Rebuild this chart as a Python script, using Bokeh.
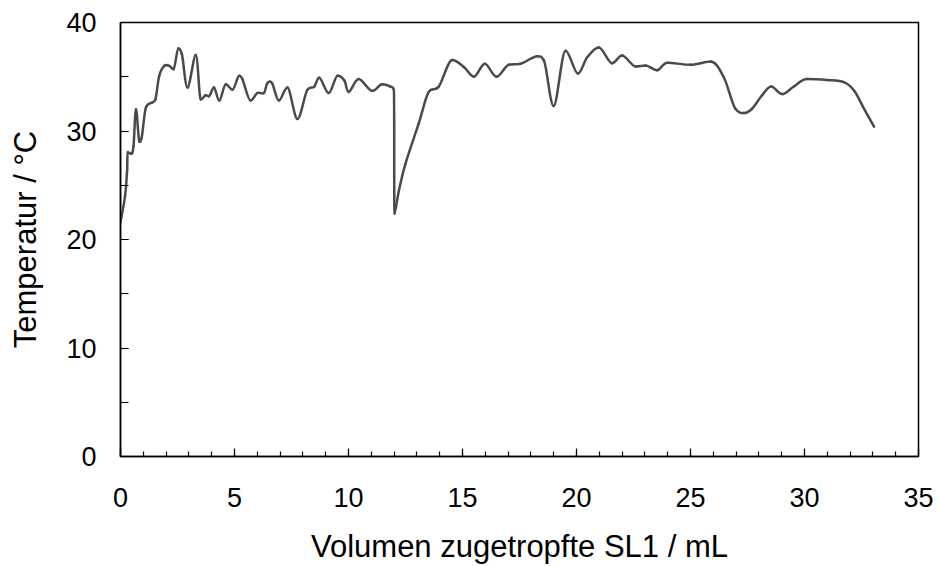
import numpy as np
from bokeh.plotting import figure
from bokeh.models import Range1d, SingleIntervalTicker, ColumnDataSource
from bokeh.embed import file_html
from bokeh.resources import INLINE

volume = [0.0, 0.2, 0.29, 0.32, 0.47, 0.57, 0.68, 0.83, 0.93, 1.12, 1.41, 1.53, 1.70, 1.92,
          2.14, 2.33, 2.53, 2.69, 2.94, 3.30, 3.52, 3.74, 3.88, 4.10, 4.33, 4.62, 4.91,
          5.20, 5.34, 5.70, 6.00, 6.29, 6.44, 6.65, 6.95, 7.32, 7.76, 8.20, 8.50, 8.72,
          9.13, 9.52, 9.82, 10.01, 10.45, 11.04, 11.47, 11.84, 11.99, 12.02, 12.21, 12.5,
          13.08, 13.52, 13.96, 14.55, 15.06, 15.5, 15.98, 16.49, 17.03, 17.54, 18.27,
          18.57, 19.0, 19.52, 20.06, 20.47, 20.98, 21.56, 22.0, 22.59, 23.03, 23.54, 24.0,
          25.0, 25.88, 26.46, 26.97, 27.34, 27.7, 28.14, 28.54, 29.02, 29.53, 30.12,
          31.0, 31.73, 32.18, 32.61, 33.05]
temperatur = [21.6, 24.0, 26.4, 28.05, 27.9, 28.6, 32.0, 29.0, 29.4, 32.2, 32.65, 32.9, 35.1, 36.0,
              36.0, 35.7, 37.6, 37.1, 34.0, 37.0, 32.9, 33.3, 33.2, 34.0, 32.8, 34.3, 33.8,
              35.1, 34.8, 32.8, 33.5, 33.5, 34.4, 34.4, 32.8, 34.0, 31.1, 33.8, 34.1, 34.9,
              33.5, 35.1, 34.65, 33.6, 34.8, 33.7, 34.3, 34.1, 33.8, 22.4, 24.5, 27.0,
              30.7, 33.6, 34.1, 36.55, 35.9, 35.0, 36.2, 35.0, 36.1, 36.2, 36.9,
              36.5, 32.3, 37.4, 35.3, 36.8, 37.7, 36.25, 36.95, 35.95, 36.04, 35.6, 36.3,
              36.1, 36.4, 34.95, 32.05, 31.65, 32.05, 33.3, 34.1, 33.4, 34.1, 34.8,
              34.7, 34.5, 33.7, 32.05, 30.4]

x_label = "Volumen zugetropfte SL1 / mL"
y_label = "Temperatur / °C"

# Smoothed line: cubic Bezier segments whose control points are derived
# from the data points themselves (tangents clamped to avoid overshoot).
px = np.array(volume, dtype=float)
py = np.array(temperatur, dtype=float)
prev_x = np.concatenate([[px[0]], px[:-1]])
prev_y = np.concatenate([[py[0]], py[:-1]])
next_x = np.concatenate([px[1:], [px[-1]]])
next_y = np.concatenate([py[1:], [py[-1]]])
tx = (next_x - prev_x) / 6.0
ty = (next_y - prev_y) / 6.0
dx_prev = px - prev_x
dx_next = next_x - px
tx = np.minimum(tx, np.where(dx_prev > 0, dx_prev, tx))
tx = np.minimum(tx, np.where(dx_next > 0, dx_next, tx))
dy_prev = py - prev_y
dy_next = next_y - py
extremum = dy_prev * dy_next <= 0
lim = np.minimum(np.abs(dy_prev), np.abs(dy_next))
lim = np.where((np.abs(dy_prev) == 0) | (np.abs(dy_next) == 0), np.abs(ty), lim)
ty = np.where(extremum & (dy_prev != 0) & (dy_next != 0), 0.0, np.sign(ty) * np.minimum(np.abs(ty), lim))

seg = ColumnDataSource(dict(
    x0=px[:-1], y0=py[:-1], x1=px[1:], y1=py[1:],
    cx0=px[:-1] + tx[:-1], cy0=py[:-1] + ty[:-1],
    cx1=px[1:] - tx[1:], cy1=py[1:] - ty[1:],
))

p = figure(width=938, height=566, output_backend="svg", toolbar_location=None,
           x_range=Range1d(0, 35), y_range=Range1d(0, 40),
           min_border_left=120, min_border_right=20, min_border_top=22, min_border_bottom=110)
p.bezier(x0="x0", y0="y0", x1="x1", y1="y1", cx0="cx0", cy0="cy0", cx1="cx1", cy1="cy1",
         source=seg, line_color="#4a4a4a", line_width=2.5, line_cap="round")

p.grid.visible = False
p.background_fill_color = "white"
p.border_fill_color = "white"
p.outline_line_color = "black"
p.outline_line_width = 1.5
p.outline_line_alpha = 1.0

font = "Liberation Sans"
p.xaxis.ticker = SingleIntervalTicker(interval=5, num_minor_ticks=5)
p.yaxis.ticker = SingleIntervalTicker(interval=10, num_minor_ticks=2)
for ax in (p.xaxis, p.yaxis):
    ax.axis_line_color = "black"
    ax.axis_line_width = 1.5
    ax.major_tick_line_color = "black"
    ax.minor_tick_line_color = "black"
    ax.major_tick_line_width = 1.2
    ax.minor_tick_line_width = 1.2
    ax.major_tick_in = 8
    ax.major_tick_out = 0
    ax.minor_tick_out = 0
    ax.major_label_text_font = font
    ax.major_label_text_font_size = "27px"
    ax.major_label_text_color = "black"
    ax.major_label_text_line_height = 1.0
    ax.axis_label_text_font = font
    ax.axis_label_text_font_size = "31px"
    ax.axis_label_text_font_style = "normal"
    ax.axis_label_text_color = "black"
    ax.axis_label_text_line_height = 1.0

p.xaxis.minor_tick_in = 5
p.yaxis.minor_tick_in = 8
p.xaxis.major_label_standoff = 31
p.yaxis.major_label_standoff = 24
p.xaxis.axis_label = x_label
p.yaxis.axis_label = y_label
p.xaxis.axis_label_standoff = 19
p.yaxis.axis_label_standoff = 20

open("out.html", "w").write(file_html(p, INLINE))
